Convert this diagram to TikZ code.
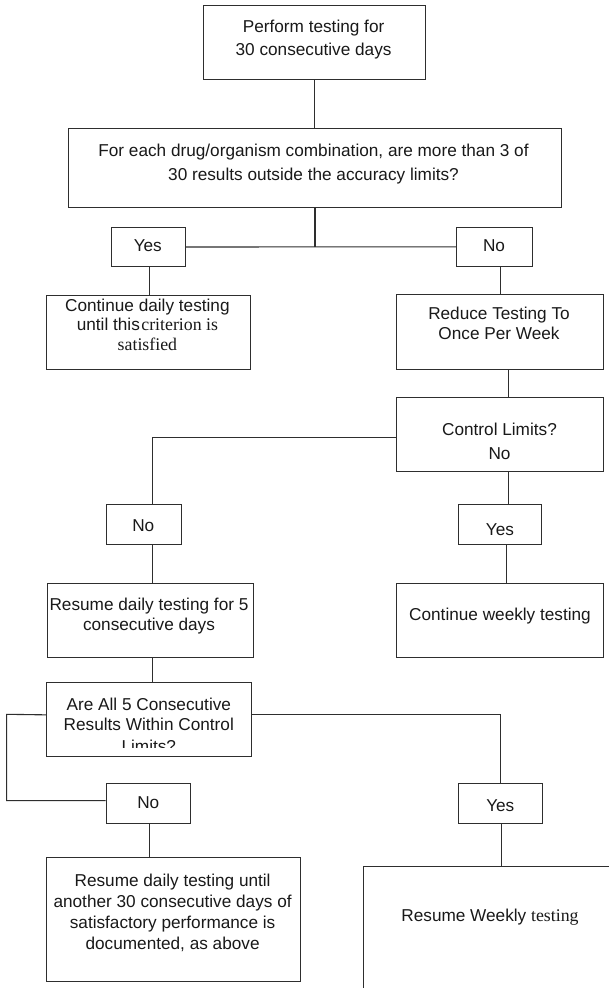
\documentclass[tikz,border=0pt]{standalone}
\usepackage{fontspec}
\setmainfont{Liberation Sans}
\newfontfamily\serifface{Liberation Serif}
\newcommand\tms[1]{{\serifface\fontsize{17.8}{20}\selectfont #1}}
\begin{document}
\begin{tikzpicture}[x=1pt,y=-1pt]
\tikzset{
  box/.style={draw=black!82, line width=1.1pt, inner sep=0pt, anchor=north west, fill=none},
  % text blocks are placed by the baseline of their last line
  txt/.style={align=center, inner sep=0pt, anchor=base, text=black!90,
              font=\fontsize{17.2}{#1}\selectfont},
  txt/.default={23.4},
  link/.style={draw=black!82, line width=1.1pt},
}
\clip (0,0) rectangle (609,988);
\fill[white] (0,0) rectangle (609,988);

% boxes
\node[box, minimum width=221.8pt, minimum height=74pt]   (top)    at (202.7,5) {};
\node[box, minimum width=493.6pt, minimum height=79pt]   (q)      at (67.6,128) {};
\node[box, minimum width=74.2pt,  minimum height=39.5pt] (yes1)   at (110.7,226.7) {};
\node[box, minimum width=75.7pt,  minimum height=39.5pt] (no1)    at (456,226.5) {};
\node[box, minimum width=204.5pt, minimum height=74pt]   (cont)   at (45.5,294.5) {};
\node[box, minimum width=207pt,   minimum height=75pt]   (reduce) at (396,294) {};
\node[box, minimum width=207pt,   minimum height=74pt]   (ctrl)   at (396,397) {};
\node[box, minimum width=75.3pt,  minimum height=39.7pt] (no2)    at (105.7,504.3) {};
\node[box, minimum width=83.1pt,  minimum height=40pt]   (yes2)   at (457.5,504) {};
\node[box, minimum width=206.6pt, minimum height=74pt]   (res5)   at (46.6,583) {};
\node[box, minimum width=207pt,   minimum height=74pt]   (cw)     at (396,583) {};
\node[box, minimum width=204.5pt, minimum height=74pt]   (are)    at (46,681.5) {};
\node[box, minimum width=84.3pt,  minimum height=40pt]   (no3)    at (105.7,783.3) {};
\node[box, minimum width=84pt,    minimum height=40pt]   (yes3)   at (458.3,783.3) {};
\node[box, minimum width=254.4pt, minimum height=124pt]  (resu)   at (45.8,857) {};
\node[box, minimum width=270pt,   minimum height=140pt]  (rw)     at (362.7,865.5) {};

% texts
\node[txt] (top-t)    at (313.6,55.7) {Perform testing for\\30 consecutive days};
\node[txt=24] (q-t)   at (313.5,180) {For each drug/organism combination, are more than 3 of\\30 results outside the accuracy limits?};
\node[txt] (yes1-t)   at (147.8,251.5) {Yes};
\node[txt] (no1-t)    at (494,251) {No};
\node[txt=19.2] (cont-t) at (147.4,350.1) {Continue daily testing\\until this\hspace{1.5pt}\tms{criterion is}\\\tms{satisfied}};
\node[txt=19.7] (reduce-t) at (499,339) {Reduce Testing To\\Once Per Week};
\node[txt=24.3] (ctrl-t) at (499.5,459.3) {Control Limits?\\No};
\node[txt] (no2-t)    at (143.3,531.7) {No};
\node[txt] (yes2-t)   at (500,535) {Yes};
\node[txt=19.3] (res5-t) at (149,630) {Resume daily testing for 5\\consecutive days};
\node[txt] (cw-t)     at (500,620) {Continue weekly testing};
\begin{scope}
  \clip (are.north west) rectangle ([yshift=8.8pt]are.south east);
  \node[txt=20] (are-t) at (148.8,752) {Are All 5 Consecutive\\Results Within Control\\[2pt]Limits?};
\end{scope}
\node[txt] (no3-t)    at (148.3,808.3) {No};
\node[txt] (yes3-t)   at (500.3,811) {Yes};
\node[txt=21] (resu-t) at (172.6,949) {Resume daily testing until\\another 30 consecutive days of\\satisfactory performance is\\documented, as above};
\node[txt] (rw-t)     at (490,921.7) {Resume Weekly \tms{testing}};

% connectors
\coordinate (j1) at (313,246.7);
\coordinate (lb) at (6.6,714.3);
\draw[link] (top.south) -- (top.south |- q.north);
\draw[link] (q.south) -- (q.south |- j1);
\draw[link] (yes1.east) -- (no1.west);
\draw[link] ([xshift=1.2pt]yes1.south) -- ([xshift=1.2pt]yes1.south |- cont.north);
\draw[link] ([xshift=6pt]no1.south) -- ([xshift=6pt]no1.south |- reduce.north);
\draw[link] ([xshift=8pt]reduce.south) -- ([xshift=8pt]reduce.south |- ctrl.north);
\draw[link] ([yshift=-2.7pt]ctrl.west) -| ([xshift=8.3pt]no2.north);
\draw[link] ([xshift=8pt]ctrl.south) -- ([xshift=8pt]ctrl.south |- yes2.north);
\draw[link] ([xshift=7.3pt]yes2.south) -- ([xshift=7.3pt]yes2.south |- cw.north);
\draw[link] ([xshift=8.2pt]no2.south) -- ([xshift=8.2pt]no2.south |- res5.north);
\draw[link] ([xshift=2pt]res5.south) -- ([xshift=2pt]res5.south |- are.north);
\draw[link] ([yshift=4.2pt]are.west) -- (lb) |- ([yshift=3.3pt]no3.west);
\draw[link] ([yshift=4.2pt]are.east) -| (yes3.north);
\draw[link] ([xshift=1.2pt]no3.south) -- ([xshift=1.2pt]no3.south |- resu.north);
\draw[link] ([xshift=0.7pt]yes3.south) -- ([xshift=0.7pt]yes3.south |- rw.north);
\end{tikzpicture}
\end{document}
